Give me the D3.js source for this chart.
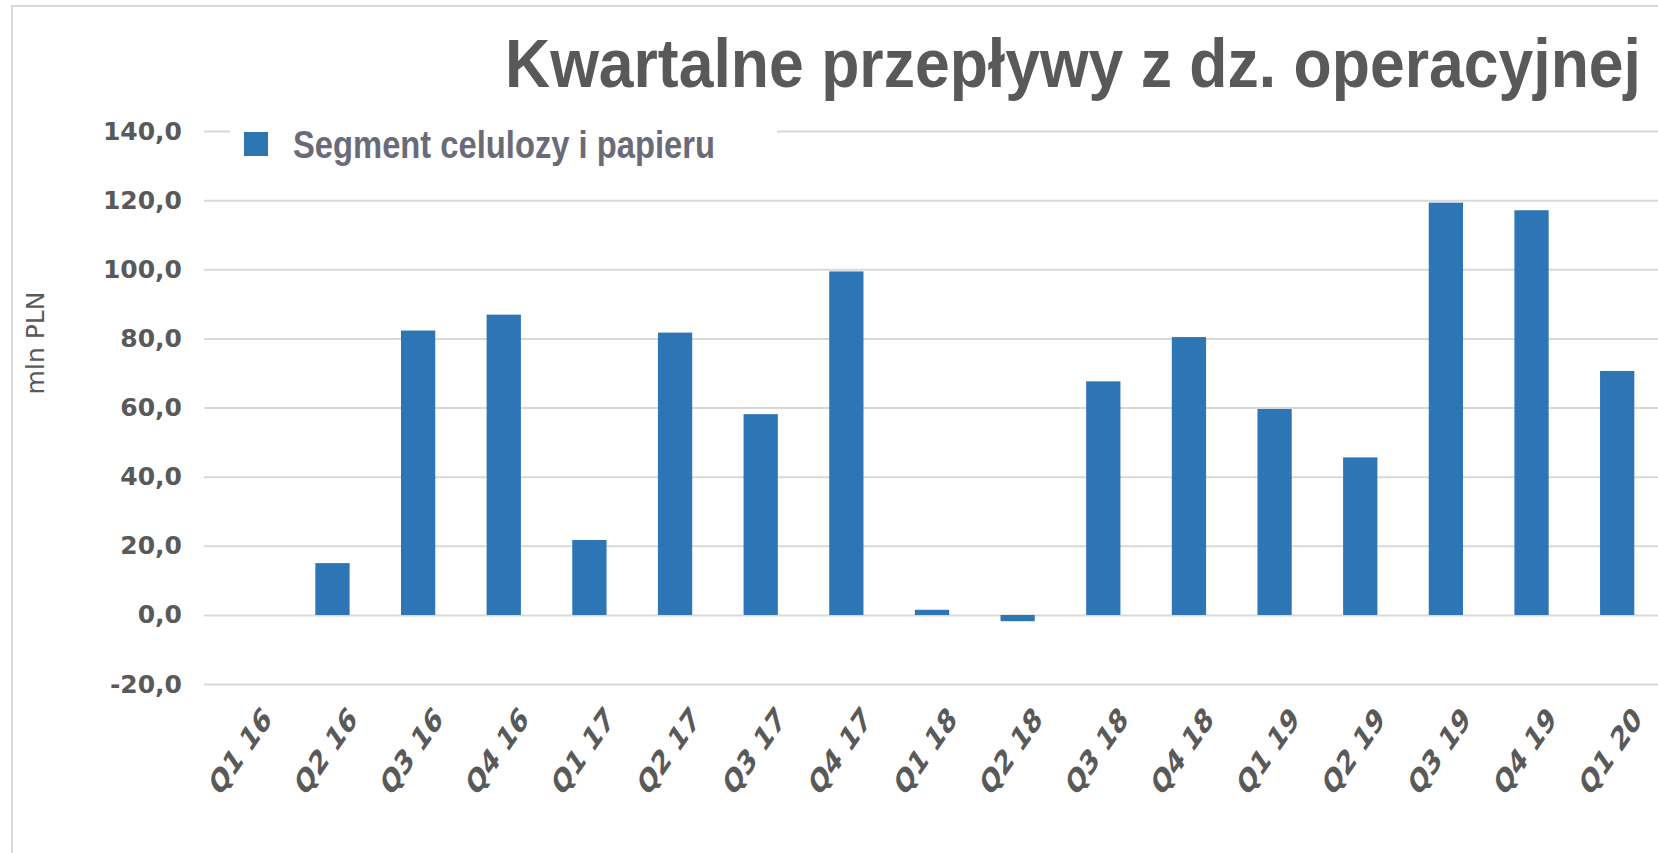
<!DOCTYPE html>
<html lang="en">
<head>
    <meta charset="UTF-8">
    <title>Kwartalne przepływy z dz. operacyjnej</title>
    <script src="https://d3js.org/d3.v7.min.js"></script>
    <style>
        body { margin: 0; background: white; }
        svg { display: block; }
    </style>
</head>
<body>
    <div id="chart"></div>
    <script>
        // dane
        const quarters = ["Q1 16", "Q2 16", "Q3 16", "Q4 16", "Q1 17", "Q2 17", "Q3 17", "Q4 17",
                          "Q1 18", "Q2 18", "Q3 18", "Q4 18", "Q1 19", "Q2 19", "Q3 19", "Q4 19", "Q1 20"];
        const values = [0, 15.0, 82.3, 86.9, 21.7, 81.7, 58.1, 99.4,
                        1.5, -1.8, 67.6, 80.4, 59.6, 45.6, 119.3, 117.1, 70.6];
        const yTicks = [-20, 0, 20, 40, 60, 80, 100, 120, 140];
        const title = "Kwartalne przepływy z dz. operacyjnej";
        const seriesName = "Segment celulozy i papieru";
        const yAxisName = "mln PLN";

        const width = 1658, height = 853;
        const grey = "#595959";

        const svg = d3.select("#chart").append("svg")
            .attr("width", width)
            .attr("height", height);

        // ramka
        svg.append("rect")
            .attr("x", 12).attr("y", 6)
            .attr("width", width).attr("height", height)
            .attr("fill", "none")
            .attr("stroke", "#d9d9d9")
            .attr("stroke-width", 2);

        var x = d3.scaleBand().domain(quarters).range([204, 1660]).paddingInner(0.6).paddingOuter(0.3);
        var y = d3.scaleLinear().domain([-20, 140]).range([684.1, 131.1]);

        // siatka + etykiety osi Y
        svg.append("g")
            .attr("transform", "translate(204,0)")
            .call(d3.axisLeft(y).tickValues(yTicks).tickSize(-1460).tickPadding(22)
                .tickFormat(d => d3.format(".1f")(d).replace(".", ",").replace("\u2212", "-")))
            .call(g => g.select(".domain").remove())
            .call(g => g.selectAll("line").attr("stroke", "#d9d9d9").attr("stroke-width", 2))
            .call(g => g.selectAll("text")
                .attr("fill", grey)
                .style("font-family", "DejaVu Sans")
                .style("font-weight", "bold")
                .style("font-size", "25px"));

        // słupki
        svg.append("g")
            .selectAll("rect")
            .data(values)
            .enter()
            .append("rect")
            .attr("x", (d, i) => x(quarters[i]))
            .attr("y", d => y(Math.max(d, 0)))
            .attr("width", x.bandwidth())
            .attr("height", d => Math.abs(y(d) - y(0)))
            .attr("fill", "#2e75b6");

        // etykiety osi X
        svg.append("g")
            .attr("transform", "translate(0,712)")
            .call(d3.axisBottom(x).tickSize(0))
            .call(g => g.select(".domain").remove())
            .call(g => g.selectAll("text")
                .attr("x", 0).attr("y", 0).attr("dy", 0)
                .attr("fill", grey)
                .style("text-anchor", "end")
                .style("font-family", "DejaVu Sans")
                .style("font-weight", "bold")
                .style("font-size", "33px")
                .attr("transform", "translate(26,9) scale(0.7,1) rotate(-45)"));

        // tytuł osi Y
        svg.append("text")
            .attr("transform", "translate(44,343) rotate(-90)")
            .attr("text-anchor", "middle")
            .attr("fill", grey)
            .style("font-family", "DejaVu Sans")
            .style("font-size", "25px")
            .text(yAxisName);

        // tytuł
        svg.append("text")
            .attr("x", 505).attr("y", 87)
            .attr("fill", grey)
            .attr("textLength", 1136)
            .attr("lengthAdjust", "spacingAndGlyphs")
            .style("font-family", "Liberation Sans")
            .style("font-weight", "bold")
            .style("font-size", "68px")
            .text(title);

        // legenda
        var legend = svg.append("g");
        legend.append("rect")
            .attr("x", 230).attr("y", 118)
            .attr("width", 547).attr("height", 50)
            .attr("fill", "white");
        legend.append("rect")
            .attr("x", 244).attr("y", 132)
            .attr("width", 24).attr("height", 24)
            .attr("fill", "#2e75b6");
        legend.append("text")
            .attr("x", 293).attr("y", 158)
            .attr("fill", "#6b6a78")
            .attr("textLength", 422)
            .attr("lengthAdjust", "spacingAndGlyphs")
            .style("font-family", "Liberation Sans")
            .style("font-weight", "bold")
            .style("font-size", "38px")
            .text(seriesName);
    </script>
</body>
</html>
